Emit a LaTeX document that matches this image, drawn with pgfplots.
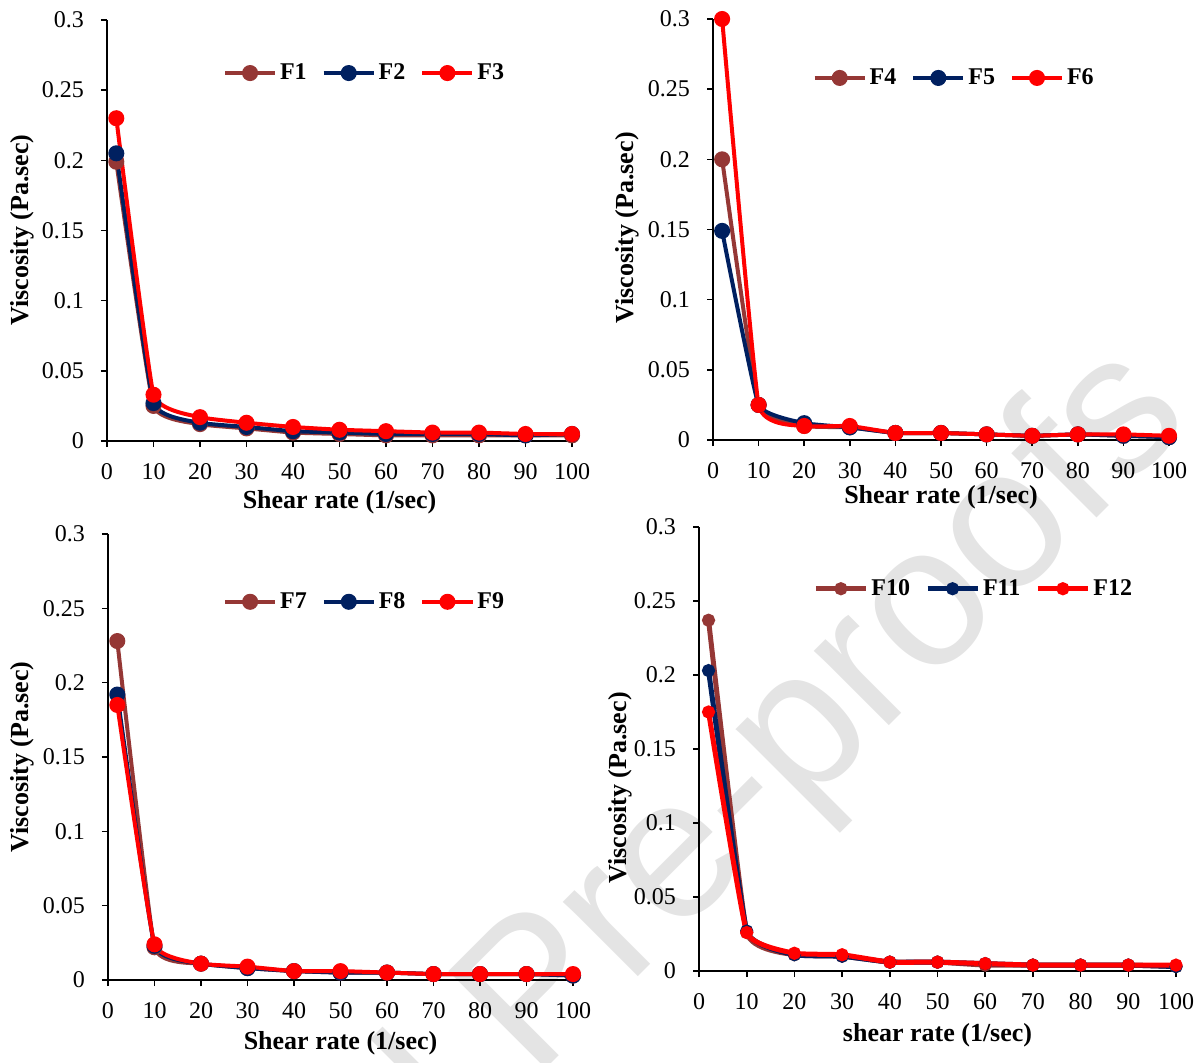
\documentclass[border=0pt]{standalone}
\usepackage{pgfplots}
\pgfplotsset{compat=1.18}
\usepackage{fontspec}
\setmainfont{Liberation Serif}
\newfontfamily\wmfont{Liberation Sans}
\definecolor{cBrown}{RGB}{149,55,53}
\definecolor{cNavy}{RGB}{0,32,96}
\definecolor{cRed}{RGB}{255,0,0}
\definecolor{wmgray}{RGB}{228,228,228}

\pgfplotsset{
  panel/.style={
    scale only axis, anchor=south west,
    xmin=0, xmax=100, ymin=0, ymax=0.3,
    enlargelimits=false, clip=false,
    axis x line=bottom, axis y line=left,
    axis line style={-, black, line width=0.8pt},
    xtick={0,10,20,30,40,50,60,70,80,90,100},
    ytick={0,0.05,0.1,0.15,0.2,0.25,0.3},
    yticklabels={0,0.05,0.1,0.15,0.2,0.25,0.3},
    scaled y ticks=false,
    tick align=outside, major tick length=3pt,
    tick style={black, line width=0.8pt},
    /pgf/number format/assume math mode=true,
    ticklabel style={font=\fontsize{12}{14}\selectfont},
    xticklabel style={yshift=-4.5pt},
    yticklabel style={xshift=-5pt},
    label style={font=\fontsize{13}{15}\selectfont\bfseries},
    legend columns=3,
    legend style={draw=none, fill=none, font=\fontsize{12}{14}\selectfont\bfseries,
      anchor=center, /tikz/every even column/.append style={column sep=6pt},
      nodes={inner xsep=1.5pt}},
    legend image code/.code={\draw[mark repeat=2,mark phase=2,#1] plot coordinates {(0pt,0pt) (12.5pt,0pt) (25pt,0pt)};},
  },
  sA/.style={color=cBrown, line width=2pt, mark=*, mark size=3pt, mark options={solid, fill=cBrown, draw=cBrown}, smooth, tension=0.2},
  sB/.style={color=cNavy, line width=2pt, mark=*, mark size=3pt, mark options={solid, fill=cNavy, draw=cNavy}, smooth, tension=0.2},
  sC/.style={color=cRed, line width=2pt, mark=*, mark size=3pt, mark options={solid, fill=cRed, draw=cRed}, smooth, tension=0.2},
  tA/.style={color=cBrown, line width=2.5pt, mark=*, mark size=2pt, mark options={solid, fill=cBrown, draw=cBrown}, smooth, tension=0.2},
  tB/.style={color=cNavy, line width=2.5pt, mark=*, mark size=2pt, mark options={solid, fill=cNavy, draw=cNavy}, smooth, tension=0.2},
  tC/.style={color=cRed, line width=2.5pt, mark=*, mark size=2pt, mark options={solid, fill=cRed, draw=cRed}, smooth, tension=0.2},
}

\begin{document}
\begin{tikzpicture}
\useasboundingbox (0,0) rectangle (599.5pt,531pt);
\begin{scope}
\clip (0,0) rectangle (599.5pt,531pt);
\node[rotate=45, anchor=base, text=wmgray, font=\wmfont\fontsize{100}{120}\selectfont, inner sep=0pt] at (306.5pt,30pt) {Journal Pre-proofs};
\end{scope}

% Panel 1
\begin{axis}[panel, at={(53.5pt,310.5pt)}, width=232.5pt, height=210.5pt,
  xlabel={Shear rate (1/sec)}, ylabel={Viscosity (Pa.sec)},
  xlabel style={at={(axis description cs:0.5,-0.1449)}, anchor=center},
  ylabel style={at={(axis description cs:-0.1828,0.501)}, anchor=center},
  legend style={at={(0.555,0.874)}}]
\addplot[sA] coordinates {(2,0.199) (10,0.025) (20,0.012) (30,0.009) (40,0.006) (50,0.005) (60,0.004) (70,0.004) (80,0.004) (90,0.004) (100,0.004)};
\addplot[sB] coordinates {(2,0.205) (10,0.027) (20,0.013) (30,0.010) (40,0.007) (50,0.006) (60,0.005) (70,0.005) (80,0.005) (90,0.004) (100,0.005)};
\addplot[sC] coordinates {(2,0.230) (10,0.033) (20,0.017) (30,0.013) (40,0.010) (50,0.008) (60,0.007) (70,0.006) (80,0.006) (90,0.005) (100,0.005)};
\legend{F1,F2,F3}
\end{axis}

% Panel 2
\begin{axis}[panel, at={(356.5pt,311pt)}, width=228pt, height=210.5pt,
  xlabel={Shear rate (1/sec)}, ylabel={Viscosity (Pa.sec)},
  xlabel style={at={(axis description cs:0.5,-0.1354)}, anchor=center},
  ylabel style={at={(axis description cs:-0.1886,0.504)}, anchor=center},
  legend style={at={(0.53,0.86)}}]
\addplot[sA] coordinates {(2,0.200) (10,0.025) (20,0.010) (30,0.009) (40,0.005) (50,0.005) (60,0.004) (70,0.003) (80,0.004) (90,0.003) (100,0.002)};
\addplot[sB] coordinates {(2,0.149) (10,0.025) (20,0.012) (30,0.009) (40,0.005) (50,0.005) (60,0.004) (70,0.003) (80,0.004) (90,0.003) (100,0.002)};
\addplot[sC] coordinates {(2,0.300) (10,0.025) (20,0.010) (30,0.010) (40,0.005) (50,0.005) (60,0.004) (70,0.003) (80,0.004) (90,0.004) (100,0.003)};
\legend{F4,F5,F6}
\end{axis}

% Panel 3
\begin{axis}[panel, at={(54pt,41pt)}, width=232.5pt, height=223pt,
  xlabel={Shear rate (1/sec)}, ylabel={Viscosity (Pa.sec)},
  xlabel style={at={(axis description cs:0.5,-0.1413)}, anchor=center},
  ylabel style={at={(axis description cs:-0.185,0.5)}, anchor=center},
  legend style={at={(0.553,0.848)}}]
\addplot[sA] coordinates {(2,0.228) (10,0.022) (20,0.011) (30,0.008) (40,0.006) (50,0.005) (60,0.005) (70,0.004) (80,0.004) (90,0.004) (100,0.003)};
\addplot[sB] coordinates {(2,0.192) (10,0.023) (20,0.011) (30,0.008) (40,0.006) (50,0.005) (60,0.005) (70,0.004) (80,0.004) (90,0.004) (100,0.003)};
\addplot[sC] coordinates {(2,0.185) (10,0.024) (20,0.011) (30,0.009) (40,0.006) (50,0.006) (60,0.005) (70,0.004) (80,0.004) (90,0.004) (100,0.004)};
\legend{F7,F8,F9}
\end{axis}

% Panel 4
\begin{axis}[panel, at={(349.5pt,45.5pt)}, width=238.5pt, height=222pt,
  xlabel={shear rate (1/sec)}, ylabel={Viscosity (Pa.sec)},
  xlabel style={at={(axis description cs:0.5,-0.1441)}, anchor=center},
  ylabel style={at={(axis description cs:-0.1656,0.4126)}, anchor=center},
  legend style={at={(0.577,0.861)}}]
\addplot[tA] coordinates {(2,0.237) (10,0.026) (20,0.011) (30,0.010) (40,0.006) (50,0.006) (60,0.004) (70,0.004) (80,0.004) (90,0.004) (100,0.003)};
\addplot[tB] coordinates {(2,0.203) (10,0.027) (20,0.011) (30,0.010) (40,0.006) (50,0.006) (60,0.005) (70,0.004) (80,0.004) (90,0.004) (100,0.003)};
\addplot[tC] coordinates {(2,0.175) (10,0.026) (20,0.012) (30,0.011) (40,0.006) (50,0.006) (60,0.005) (70,0.004) (80,0.004) (90,0.004) (100,0.004)};
\legend{F10,F11,F12}
\end{axis}
\end{tikzpicture}
\end{document}
